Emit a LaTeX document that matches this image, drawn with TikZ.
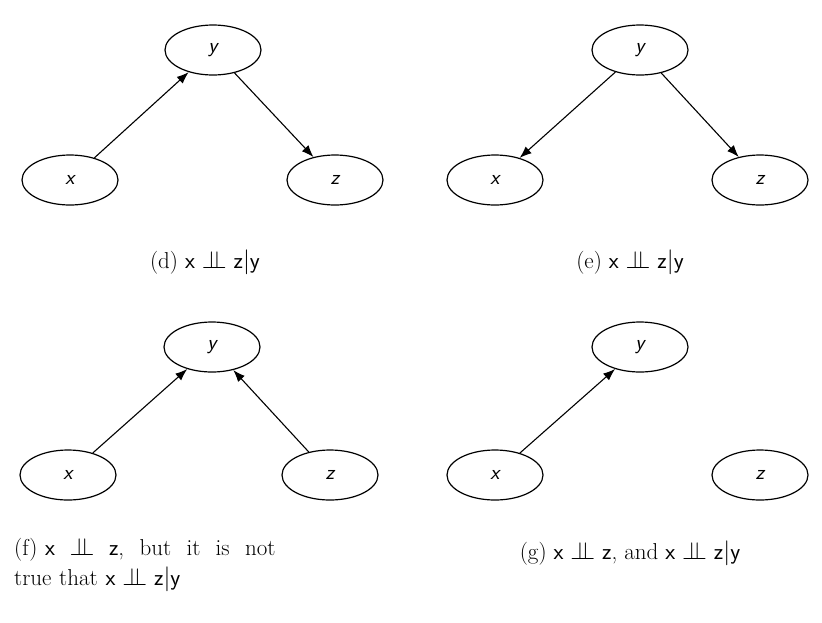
\documentclass[tikz,border=0pt]{standalone}
\usepackage{amssymb}
\usetikzlibrary{shapes.geometric,arrows.meta}
\newcommand{\indep}{\mathrel{\perp\mkern-10mu\perp}}
\begin{document}
\begin{tikzpicture}[x=1pt,y=-1pt,
  var/.style={ellipse,draw,line width=1.2pt,minimum width=96pt,minimum height=50pt,inner sep=0pt,font=\fontsize{21}{24}\selectfont\sffamily\itshape},
  edge/.style={line width=1.1pt,-{Latex[length=12pt,width=9pt]}},
  captext/.style={font=\fontsize{23}{30}\selectfont}]
\useasboundingbox (0,0) rectangle (822,622);
% d
\node[var] (dy) at (213,50) {y};
\node[var] (dx) at (70,180) {x};
\node[var] (dz) at (335,180) {z};
\draw[edge] (dx) -- (dy);
\draw[edge] (dy) -- (dz);
\node[captext] (dc) at (205,262) {(d) $\textsf{x}\indep\textsf{z}|\textsf{y}$};
% e
\node[var] (ey) at (640,50) {y};
\node[var] (ex) at (495,180) {x};
\node[var] (ez) at (760,180) {z};
\draw[edge] (ey) -- (ex);
\draw[edge] (ey) -- (ez);
\node[captext] (ec) at (630,262) {(e) $\textsf{x}\indep\textsf{z}|\textsf{y}$};
% f
\node[var] (fy) at (212,347) {y};
\node[var] (fx) at (68,475) {x};
\node[var] (fz) at (330,475) {z};
\draw[edge] (fx) -- (fy);
\draw[edge] (fz) -- (fy);
\node[captext,anchor=north west,align=left,text width=380pt,inner sep=0pt] (fc) at (14,538) {(f) $\textsf{x}\ \indep\ \textsf{z}$, \ but \ it \ is \ not\\true that $\textsf{x}\indep\textsf{z}|\textsf{y}$};
% g
\node[var] (gy) at (640,347) {y};
\node[var] (gx) at (495,475) {x};
\node[var] (gz) at (760,475) {z};
\draw[edge] (gx) -- (gy);
\node[captext] (gc) at (630,553) {(g) $\textsf{x}\indep\textsf{z}$, and $\textsf{x}\indep\textsf{z}|\textsf{y}$};
\end{tikzpicture}
\end{document}
